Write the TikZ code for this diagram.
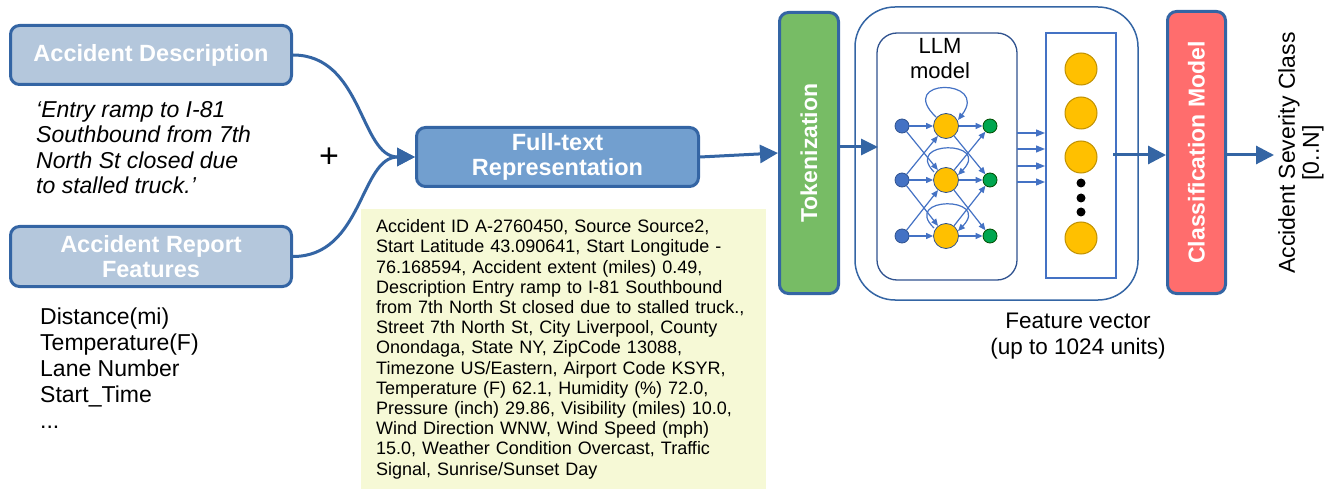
\documentclass[tikz,border=0pt]{standalone}
\usepackage{fontspec}
\setmainfont{Liberation Sans}
\usetikzlibrary{arrows.meta}
\definecolor{dblue}{RGB}{52,101,164}
\definecolor{lblue}{RGB}{180,199,220}
\definecolor{mblue}{RGB}{114,159,207}
\definecolor{tgreen}{RGB}{119,188,101}
\definecolor{cred}{RGB}{255,109,109}
\definecolor{ylw}{RGB}{246,249,214}
\definecolor{nnblue}{RGB}{68,114,196}
\definecolor{nnborder}{RGB}{47,82,143}
\definecolor{gold}{RGB}{255,192,0}
\definecolor{goldb}{RGB}{191,144,0}
\definecolor{ngreen}{RGB}{0,166,80}
\begin{document}
\begin{tikzpicture}[x=1pt,y=-1pt,
  box/.style={draw=dblue,line width=3pt,rounded corners=9pt,text=white,
    font=\fontsize{23.5}{25}\selectfont\bfseries,align=center,inner sep=0pt},
  vbox/.style={draw=dblue,line width=3pt,rounded corners=9pt,inner sep=0pt},
  vlbl/.style={rotate=90,text=white,font=\fontsize{23}{25}\selectfont\bfseries,inner sep=0pt},
  big/.style={line width=3pt,draw=dblue,-{Triangle[length=18pt,width=18pt]}},
  nn/.style={line width=1.2pt,draw=nnblue,-{Triangle[length=7pt,width=6pt]}},
  thin/.style={line width=1.2pt,draw=nnblue,-{Triangle[length=9pt,width=7pt]}},
  txt/.style={font=\fontsize{23}{26}\selectfont,align=left,inner sep=0pt},
  inp/.style={circle,fill=nnblue,draw=nnborder,line width=0.8pt,minimum size=14pt,inner sep=0pt},
  hid/.style={circle,fill=gold,draw=nnborder,line width=0.8pt,minimum size=25pt,inner sep=0pt},
  outn/.style={circle,fill=ngreen,draw=black!70!green,line width=0.8pt,minimum size=14pt,inner sep=0pt},
  feat/.style={circle,fill=gold,draw=goldb,line width=1pt,minimum size=32pt,inner sep=0pt},
  dotn/.style={circle,fill=black,minimum size=9pt,inner sep=0pt}
]
\useasboundingbox (0,0) rectangle (1336,489);

% input boxes
\node[box,fill=lblue,minimum width=281pt,minimum height=59pt] (desc) at (151,55) {Accident Description};
\node[box,fill=lblue,minimum width=281pt,minimum height=60pt] (rep) at (151,256.5) {Accident Report\\Features};
\node[box,fill=mblue,minimum width=282pt,minimum height=59pt] (full) at (557.5,157) {Full-text\\Representation};

% texts
\node[txt,font=\fontsize{23}{25.5}\selectfont\itshape,anchor=north west] (quote) at (36,101)
  {‘Entry ramp to I-81\\Southbound from 7th\\North St closed due\\to stalled truck.’};
\node[font=\fontsize{34}{36}\selectfont,inner sep=0pt] (plus) at (329,158) {+};
\node[txt,anchor=north west] (flist) at (40,308)
  {Distance(mi)\\Temperature(F)\\Lane Number\\Start\_Time\\...};

% yellow full text
\node[fill=ylw,anchor=north west,minimum height=280pt,text width=375pt,inner xsep=15pt,inner ysep=0pt,
  align=left,font=\fontsize{18}{20.2}\selectfont] (ytxt) at (361,209)
  {Accident ID A-2760450, Source Source2,\\
   Start Latitude 43.090641, Start Longitude -\\
   76.168594, Accident extent (miles) 0.49,\\
   Description Entry ramp to I-81 Southbound\\
   from 7th North St closed due to stalled truck.,\\
   Street 7th North St, City Liverpool, County\\
   Onondaga, State NY, ZipCode 13088,\\
   Timezone US/Eastern, Airport Code KSYR,\\
   Temperature (F) 62.1, Humidity (\%) 72.0,\\
   Pressure (inch) 29.86, Visibility (miles) 10.0,\\
   Wind Direction WNW, Wind Speed (mph)\\
   15.0, Weather Condition Overcast, Traffic\\
   Signal, Sunrise/Sunset Day};

% tokenization
\node[vbox,fill=tgreen,minimum width=59pt,minimum height=281pt] (tok) at (809,153) {};
\node[vlbl] (toklbl) at (tok.center) {Tokenization};

% outer LLM container
\node[draw=dblue,line width=1.5pt,rounded corners=40pt,minimum width=283pt,minimum height=293pt,inner sep=0pt] (outer) at (996.5,153.5) {};
\node[draw=nnborder,line width=1.3pt,rounded corners=20pt,minimum width=140pt,minimum height=247pt,inner sep=0pt] (llm) at (947,156.5) {};
\node[draw=nnblue,line width=2pt,minimum width=70pt,minimum height=245pt,inner sep=0pt] (fcol) at (1081,155.5) {};
\node[font=\fontsize{22}{25}\selectfont,align=center,anchor=north,inner sep=0pt] (llmlbl) at (940,38) {LLM\\model};

% neural net
\foreach \k/\y in {1/126,2/180,3/236}{
  \node[inp] (i\k) at (902,\y) {};
  \node[hid] (h\k) at (946,\y) {};
  \node[outn] (o\k) at (990,\y) {};
}
\foreach \a/\b in {1/1,1/2,2/1,2/2,2/3,3/2,3/3}{
  \draw[nn] (i\a) -- (h\b);
  \draw[nn] (h\a) -- (o\b);
}
\draw[nn] (936,117) .. controls (895,78) and (990,78) .. (958,120);
\draw[nn] (934,172) .. controls (903,140) and (992,140) .. (958,175);
\draw[nn] (934,228) .. controls (901,196) and (992,196) .. (958,231);

% feature column
\foreach \k/\y in {1/69,2/113,3/157,4/238}{
  \node[feat] (f\k) at (1081,\y) {};
}
\foreach \k/\y in {1/183,2/198,3/212}{
  \node[dotn] (d\k) at (1081,\y) {};
}
\foreach \k/\y in {1/133,2/149,3/166,4/182}{
  \coordinate (a\k) at (1017,\y);
  \draw[thin] (a\k) -- (fcol.west |- a\k);
}
\node[font=\fontsize{22.5}{26}\selectfont,align=center,inner sep=0pt] (fvlbl) at (1078,336) {Feature vector\\(up to 1024 units)};

% classification
\node[vbox,fill=cred,minimum width=58pt,minimum height=282pt] (cls) at (1196.5,152.5) {};
\node[vlbl] (clslbl) at (cls.center) {Classification Model};
\node[rotate=90,font=\fontsize{23}{24}\selectfont,align=center,inner sep=0pt] (outlbl) at (1301,153) {Accident Severity Class\\{[0..N]}};

% connectors
\draw[big] (desc.east) .. controls +(70,0) and +(-55,0) .. (full.west);
\draw[big] (rep.east) .. controls +(70,0) and +(-55,0) .. (full.west);
\draw[big] (full.east) -- (tok.west);
\coordinate (tin) at (878,147);
\draw[big,-{Triangle[length=17pt,width=16pt]}] (tok.east |- tin) -- (tin);
\coordinate (fout) at (1113,155);
\draw[big] (fout) -- (cls.west |- fout);
\coordinate (oin) at (1274,155);
\draw[big] (cls.east |- oin) -- (oin);
\end{tikzpicture}
\end{document}
